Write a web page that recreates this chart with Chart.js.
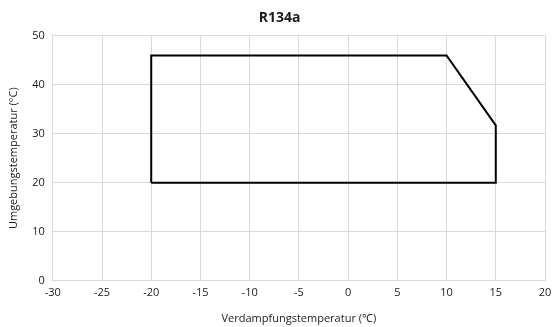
<!DOCTYPE html>
<html>
<head>
<meta charset="utf-8">
<script src="https://cdn.jsdelivr.net/npm/chart.js@4"></script>
<style>
  html, body { margin: 0; padding: 0; background: #fff; }
  #wrap { width: 552px; height: 327px; }
</style>
</head>
<body>
<div id="wrap"><canvas id="envelope"></canvas></div>
<script>
// ── Einsatzgrenze R134a (Verdampfung vs. Umgebung)
const evapTemps    = [-20, -20, 10, 15, 15, -20];
const ambientTemps = [20, 46, 46, 31.7, 20, 20];
const xTicks = [-30, -25, -20, -15, -10, -5, 0, 5, 10, 15, 20];
const yTicks = [0, 10, 20, 30, 40, 50];

const FONT = 'Open Sans';
const TEXT = '#1a1a1a';
const GRID = '#d9d9d9';

const points = evapTemps.map((x, i) => ({ x: x, y: ambientTemps[i] }));

new Chart(document.getElementById('envelope'), {
  type: 'scatter',
  data: {
    datasets: [{
      data: points,
      showLine: true,
      borderColor: '#000',
      borderWidth: 2,
      pointRadius: 0,
      fill: false,
      tension: 0,
    }],
  },
  options: {
    responsive: true,
    maintainAspectRatio: false,
    animation: false,
    layout: { padding: { left: 7, right: 0, top: 6, bottom: 2 } },
    plugins: {
      legend: { display: false },
      tooltip: { enabled: false },
      title: {
        display: true,
        text: 'R134a',
        color: TEXT,
        font: { family: FONT, size: 14, weight: 'bold' },
        padding: { top: 4, bottom: 9 },
      },
    },
    scales: {
      x: {
        type: 'linear',
        min: -30, max: 20,
        afterBuildTicks: axis => { axis.ticks = xTicks.map(v => ({ value: v })); },
        // let the "20" label run close to the right edge, like the original
        afterFit: axis => { axis.paddingRight = 7; },
        grid: { color: GRID, drawTicks: false },
        border: { color: GRID },
        ticks: { color: TEXT, font: { family: FONT, size: 11 }, padding: 6 },
        title: {
          display: true,
          text: 'Verdampfungstemperatur (℃)',
          color: TEXT,
          font: { family: FONT, size: 11 },
          padding: { top: 6, bottom: 0 },
        },
      },
      y: {
        type: 'linear',
        min: 0, max: 50,
        afterBuildTicks: axis => { axis.ticks = yTicks.map(v => ({ value: v })); },
        grid: { color: GRID, drawTicks: false },
        border: { color: GRID },
        ticks: { color: TEXT, font: { family: FONT, size: 11 }, padding: 8 },
        title: {
          display: true,
          text: 'Umgebungstemperatur (°C)',
          color: TEXT,
          font: { family: FONT, size: 11 },
          padding: { top: 0, bottom: 4 },
        },
      },
    },
  },
});
</script>
</body>
</html>
